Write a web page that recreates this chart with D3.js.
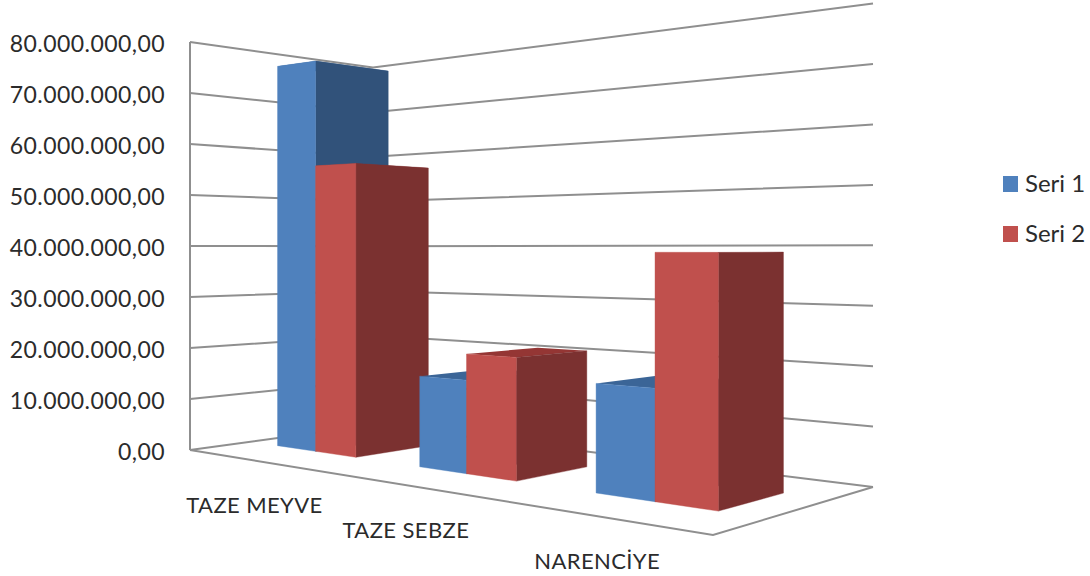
<!DOCTYPE html>
<html>
<head>
<meta charset="utf-8">
<script src="https://cdn.jsdelivr.net/npm/d3@7"></script>
<style>
  body { margin: 0; background: #fff; }
  text { font-family: Lato, "Open Sans", sans-serif; fill: #2b2b2b; }
</style>
</head>
<body>
<div id="chart"></div>
<script>
const categories = ['TAZE MEYVE', 'TAZE SEBZE', 'NARENCİYE'];
const seriesNames = ['Seri 1', 'Seri 2'];
const seri1 = [76000000, 16400000, 17700000];
const seri2 = [55600000, 21000000, 38900000];
const tickValues = [0, 10000000, 20000000, 30000000, 40000000, 50000000, 60000000, 70000000, 80000000];
const tickLabels = ['0,00', '10.000.000,00', '20.000.000,00', '30.000.000,00', '40.000.000,00',
  '50.000.000,00', '60.000.000,00', '70.000.000,00', '80.000.000,00'];

const width = 1090;
const height = 576;

// floor of the 3d box on screen: front left, front right, back right, back left
const floor = [[190, 450], [713, 535], [873, 487], [373, 425]];
const wallHeight = 408; // left wall edge in pixels, front left corner

// unit square -> floor quad, w grows with distance from the camera
function makeProjection(q) {
  const [p0, p1, p2, p3] = q;
  const sx = p0[0] - p1[0] + p2[0] - p3[0];
  const sy = p0[1] - p1[1] + p2[1] - p3[1];
  const dx1 = p1[0] - p2[0];
  const dy1 = p1[1] - p2[1];
  const dx2 = p3[0] - p2[0];
  const dy2 = p3[1] - p2[1];
  const det = dx1 * dy2 - dx2 * dy1;
  const g = (sx * dy2 - dx2 * sy) / det;
  const h = (dx1 * sy - sx * dy1) / det;
  return (u, v, z) => {
    const w = 1 + g * u + h * v;
    const x = (p1[0] - p0[0] + g * p1[0]) * u + (p3[0] - p0[0] + h * p3[0]) * v + p0[0];
    const y = (p1[1] - p0[1] + g * p1[1]) * u + (p3[1] - p0[1] + h * p3[1]) * v + p0[1];
    return [x / w, (y - z) / w];
  };
}
const project = makeProjection(floor);

const z = d3.scaleLinear().domain([0, 80000000]).range([0, wallHeight]);
const catScale = d3.scaleBand().domain(categories).range([0, 1])
  .paddingInner(0.424).paddingOuter(0.212);
const serScale = d3.scaleBand().domain(seriesNames).range([0, catScale.bandwidth()]);
const depthScale = d3.scaleLinear().domain([0, 1]).range([0.304, 0.703]);

const colors = {
  'Seri 1': {front: '#4f81bd', side: '#31527a', top: '#3b6597'},
  'Seri 2': {front: '#c0504d', side: '#7b3130', top: '#943634'}
};

const svg = d3.select('#chart').append('svg')
  .attr('width', width).attr('height', height);

const line = d3.line();
const gridColor = '#8f8f8f';

// walls
const grid = svg.append('g').attr('fill', 'none')
  .attr('stroke', gridColor).attr('stroke-width', 2);

grid.selectAll('.grid').data(tickValues)
  .enter().append('path')
  .attr('class', 'grid')
  .attr('d', d => line([project(0, 0, z(d)), project(0, 1, z(d)), project(1, 1, z(d))]));

grid.append('path').attr('d', line([project(0, 0, 0), project(0, 0, z(80000000))]));
grid.append('path').attr('d', line([project(0, 0, 0), project(1, 0, 0), project(1, 1, 0)]));

// value axis labels
svg.selectAll('.tick-label').data(tickValues)
  .enter().append('text')
  .attr('class', 'tick-label')
  .attr('x', 165)
  .attr('y', d => project(0, 0, z(d))[1] + 10)
  .attr('text-anchor', 'end')
  .attr('font-size', 23)
  .attr('letter-spacing', 0.45)
  .text((d, i) => tickLabels[i]);

// bars, back to front
const bars = [];
categories.forEach((cat, i) => {
  bars.push({cat, name: seriesNames[0], value: seri1[i]});
  bars.push({cat, name: seriesNames[1], value: seri2[i]});
});

const barGroups = svg.selectAll('.bar').data(bars)
  .enter().append('g')
  .attr('class', 'bar');

function face(u0, u1, v0, v1, z0, z1) {
  return line([project(u0, v0, z0), project(u1, v1, z0), project(u1, v1, z1), project(u0, v0, z1)]) + 'Z';
}

barGroups.append('path') // top
  .attr('fill', d => colors[d.name].top)
  .attr('d', d => {
    const u0 = catScale(d.cat) + serScale(d.name);
    const u1 = u0 + serScale.bandwidth();
    const zt = z(d.value);
    return line([project(u0, depthScale(0), zt), project(u1, depthScale(0), zt),
      project(u1, depthScale(1), zt), project(u0, depthScale(1), zt)]) + 'Z';
  });

barGroups.append('path') // side
  .attr('fill', d => colors[d.name].side)
  .attr('stroke', d => colors[d.name].side)
  .attr('stroke-width', 0.4)
  .attr('d', d => {
    const u1 = catScale(d.cat) + serScale(d.name) + serScale.bandwidth();
    return face(u1, u1, depthScale(0), depthScale(1), 0, z(d.value));
  });

barGroups.append('path') // front
  .attr('fill', d => colors[d.name].front)
  .attr('stroke', d => colors[d.name].front)
  .attr('stroke-width', 0.4)
  .attr('d', d => {
    const u0 = catScale(d.cat) + serScale(d.name);
    const u1 = u0 + serScale.bandwidth();
    return face(u0, u1, depthScale(0), depthScale(0), 0, z(d.value));
  });

// category labels sit under the front edge of the floor
svg.selectAll('.cat-label').data(categories)
  .enter().append('text')
  .attr('class', 'cat-label')
  .attr('x', d => project(catScale(d) + catScale.bandwidth() / 2, 0, 0)[0])
  .attr('y', d => project(catScale(d) + catScale.bandwidth() / 2, 0, 0)[1] + 53)
  .attr('text-anchor', 'middle')
  .attr('font-size', 22)
  .attr('letter-spacing', 0.4)
  .text(d => d);

// legend
const legendY = d3.scalePoint().domain(seriesNames).range([184, 234]);
const legend = svg.selectAll('.legend').data(seriesNames)
  .enter().append('g')
  .attr('class', 'legend')
  .attr('transform', d => `translate(1003, ${legendY(d)})`);
legend.append('rect')
  .attr('y', -8).attr('width', 15).attr('height', 16)
  .attr('fill', d => colors[d].front);
legend.append('text')
  .attr('x', 22).attr('y', 8)
  .attr('font-size', 24)
  .text(d => d);
</script>
</body>
</html>
